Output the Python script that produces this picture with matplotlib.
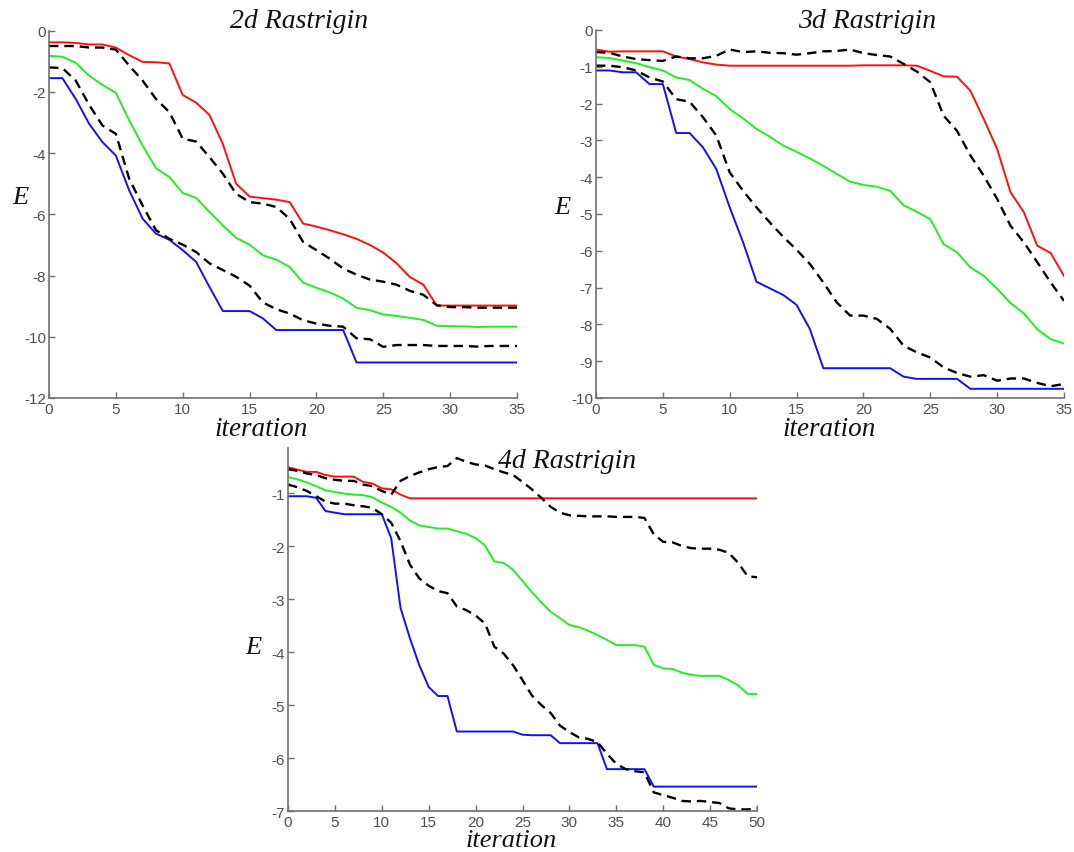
import matplotlib.pyplot as plt
import numpy as np

# iteration axes
it35 = np.arange(36)
it50 = np.arange(51)

# 2d Rastrigin
red_2d = [-0.38, -0.38, -0.4, -0.45, -0.45, -0.55, -0.8, -1.02, -1.03, -1.07,
          -2.1, -2.35, -2.75, -3.7, -5.0, -5.42, -5.47, -5.52, -5.6, -6.3,
          -6.4, -6.52, -6.65, -6.8, -7.0, -7.25, -7.6, -8.05, -8.3, -8.98,
          -8.98, -8.98, -8.98, -8.98, -8.98, -8.98]
dash_hi_2d = [-0.5, -0.5, -0.5, -0.55, -0.55, -0.62, -1.14, -1.63, -2.23, -2.66,
              -3.53, -3.62, -4.13, -4.67, -5.33, -5.6, -5.65, -5.76, -6.15, -6.9,
              -7.17, -7.45, -7.77, -7.97, -8.13, -8.2, -8.3, -8.5, -8.63, -8.97,
              -9.03, -9.03, -9.05, -9.05, -9.05, -9.05]
green_2d = [-0.82, -0.85, -1.05, -1.47, -1.77, -2.03, -2.93, -3.75, -4.49, -4.78,
            -5.3, -5.46, -5.92, -6.36, -6.77, -6.99, -7.34, -7.48, -7.72, -8.23,
            -8.4, -8.55, -8.75, -9.05, -9.13, -9.27, -9.32, -9.38, -9.45, -9.64,
            -9.65, -9.66, -9.68, -9.67, -9.67, -9.67]
dash_lo_2d = [-1.2, -1.22, -1.63, -2.42, -3.1, -3.37, -4.84, -5.71, -6.52, -6.8,
              -6.99, -7.23, -7.6, -7.82, -8.04, -8.33, -8.88, -9.1, -9.24, -9.46,
              -9.57, -9.64, -9.67, -10.05, -10.08, -10.33, -10.27, -10.27, -10.27, -10.3,
              -10.3, -10.3, -10.32, -10.3, -10.3, -10.3]
blue_2d = [-1.55, -1.55, -2.23, -3.04, -3.64, -4.08, -5.22, -6.14, -6.63, -6.83,
           -7.17, -7.55, -8.37, -9.16, -9.16, -9.16, -9.4, -9.78, -9.78, -9.78,
           -9.78, -9.78, -9.78, -10.84, -10.84, -10.84, -10.84, -10.84, -10.84, -10.84,
           -10.84, -10.84, -10.84, -10.84, -10.84, -10.84]

# 3d Rastrigin
red_3d = [-0.53, -0.59, -0.58, -0.58, -0.58, -0.58, -0.72, -0.79, -0.88, -0.94,
          -0.97, -0.97, -0.97, -0.97, -0.97, -0.97, -0.97, -0.97, -0.97, -0.97,
          -0.96, -0.96, -0.96, -0.96, -0.97, -1.11, -1.26, -1.27, -1.65, -2.42,
          -3.23, -4.41, -4.95, -5.86, -6.06, -6.68]
dash_hi_3d = [-0.6, -0.62, -0.72, -0.79, -0.82, -0.84, -0.72, -0.77, -0.77, -0.7,
              -0.53, -0.6, -0.58, -0.62, -0.63, -0.67, -0.63, -0.58, -0.57, -0.53,
              -0.63, -0.68, -0.72, -0.92, -1.13, -1.42, -2.33, -2.74, -3.41, -3.96,
              -4.59, -5.32, -5.77, -6.31, -6.86, -7.36]
green_3d = [-0.74, -0.76, -0.83, -0.9, -1.01, -1.1, -1.29, -1.36, -1.6, -1.8,
            -2.15, -2.4, -2.69, -2.9, -3.14, -3.31, -3.49, -3.69, -3.91, -4.12,
            -4.21, -4.26, -4.37, -4.76, -4.94, -5.14, -5.82, -6.04, -6.45, -6.68,
            -7.03, -7.42, -7.7, -8.13, -8.4, -8.52]
dash_lo_3d = [-0.97, -0.97, -1.01, -1.1, -1.29, -1.4, -1.88, -1.95, -2.37, -2.87,
              -3.87, -4.37, -4.82, -5.23, -5.62, -5.97, -6.36, -6.86, -7.4, -7.76,
              -7.76, -7.85, -8.12, -8.58, -8.76, -8.9, -9.17, -9.32, -9.42, -9.38,
              -9.53, -9.47, -9.47, -9.59, -9.68, -9.62]
blue_3d = [-1.1, -1.1, -1.15, -1.15, -1.47, -1.47, -2.8, -2.8, -3.19, -3.78,
           -4.82, -5.77, -6.84, -7.02, -7.2, -7.47, -8.13, -9.19, -9.19, -9.19,
           -9.19, -9.19, -9.19, -9.42, -9.48, -9.48, -9.48, -9.48, -9.75, -9.75,
           -9.75, -9.75, -9.75, -9.75, -9.75, -9.75]

# 4d Rastrigin
red_4d = [-0.51, -0.56, -0.6, -0.6, -0.66, -0.69, -0.69, -0.69, -0.79, -0.82,
          -0.91, -0.93, -1.03, -1.1] + [-1.1] * 37
dash_hi_4d = [-0.55, -0.58, -0.63, -0.66, -0.72, -0.75, -0.77, -0.77, -0.84, -0.87,
              -0.96, -1.03, -0.77, -0.68, -0.61, -0.55, -0.51, -0.49, -0.34, -0.41,
              -0.46, -0.48, -0.55, -0.61, -0.66, -0.79, -0.93, -1.09, -1.26, -1.37,
              -1.42, -1.43, -1.44, -1.44, -1.44, -1.45, -1.45, -1.45, -1.47, -1.78,
              -1.92, -1.93, -2.0, -2.04, -2.05, -2.05, -2.07, -2.13, -2.32, -2.57,
              -2.59]
green_4d = [-0.7, -0.74, -0.8, -0.87, -0.95, -0.98, -1.01, -1.03, -1.04, -1.08,
            -1.18, -1.26, -1.37, -1.52, -1.61, -1.64, -1.67, -1.67, -1.72, -1.77,
            -1.85, -1.99, -2.29, -2.32, -2.45, -2.66, -2.87, -3.06, -3.24, -3.36,
            -3.49, -3.53, -3.6, -3.68, -3.77, -3.87, -3.87, -3.87, -3.9, -4.24,
            -4.31, -4.32, -4.39, -4.43, -4.45, -4.45, -4.45, -4.53, -4.63, -4.79,
            -4.79]
dash_lo_4d = [-0.84, -0.89, -0.96, -1.06, -1.16, -1.2, -1.2, -1.23, -1.25, -1.28,
              -1.4, -1.56, -1.91, -2.35, -2.61, -2.75, -2.85, -2.89, -3.14, -3.21,
              -3.31, -3.46, -3.9, -4.03, -4.25, -4.53, -4.82, -5.0, -5.15, -5.39,
              -5.51, -5.61, -5.64, -5.7, -5.92, -6.11, -6.21, -6.25, -6.27, -6.65,
              -6.7, -6.75, -6.81, -6.82, -6.81, -6.83, -6.85, -6.95, -6.97, -6.97,
              -6.95]
blue_4d = [-1.06, -1.06, -1.06, -1.09, -1.34, -1.37, -1.4, -1.4, -1.4, -1.4,
           -1.4, -1.85, -3.17, -3.74, -4.25, -4.66, -4.83, -4.83, -5.5, -5.5,
           -5.5, -5.5, -5.5, -5.5, -5.5, -5.56, -5.57, -5.57, -5.57, -5.72,
           -5.72, -5.72, -5.72, -5.72, -6.21, -6.21, -6.21, -6.21, -6.21, -6.54,
           -6.54, -6.54, -6.54, -6.54, -6.54, -6.54, -6.54, -6.54, -6.54, -6.54,
           -6.54]

W, H = 1074, 853
fig = plt.figure(figsize=(W / 100, H / 100), dpi=100)

serif = dict(family='Liberation Serif', style='italic', color='#111111')


def px_axes(left, top, right, bottom):
    # axes from pixel box
    return fig.add_axes([left / W, 1 - bottom / H, (right - left) / W, (bottom - top) / H])


def style(ax, xmax, xt, ymin, ymax, yt):
    ax.set_xlim(0, xmax)
    ax.set_ylim(ymin, ymax)
    ax.set_xticks(xt)
    ax.set_yticks(yt)
    ax.set_yticklabels([str(v) for v in yt])
    for s in ['top', 'right']:
        ax.spines[s].set_visible(False)
    for s in ['left', 'bottom']:
        ax.spines[s].set_color('#707070')
        ax.spines[s].set_linewidth(1.2)
    ax.tick_params(direction='in', length=4, width=1, colors='#707070',
                   labelcolor='#505050', labelsize=11)
    ax.tick_params(axis='x', pad=3)
    ax.tick_params(axis='y', pad=2)
    for lab in ax.get_xticklabels() + ax.get_yticklabels():
        lab.set_family('Liberation Sans')


def draw(ax, x, red, dhi, green, dlo, blue):
    ax.plot(x, red, color='#ff1010', lw=1.4)
    ax.plot(x, green, color='#22ee22', lw=1.4)
    ax.plot(x, blue, color='#1010ff', lw=1.4)
    ax.plot(x, dhi, color='black', lw=1.7, ls=(0, (4, 2.5)))
    ax.plot(x, dlo, color='black', lw=1.7, ls=(0, (4, 2.5)))


ax1 = px_axes(49, 31.7, 517, 399)
draw(ax1, it35, red_2d, dash_hi_2d, green_2d, dash_lo_2d, blue_2d)
style(ax1, 35, range(0, 36, 5), -12, 0, list(range(-12, 1, 2)))

ax2 = px_axes(596, 31, 1064, 399)
draw(ax2, it35, red_3d, dash_hi_3d, green_3d, dash_lo_3d, blue_3d)
style(ax2, 35, range(0, 36, 5), -10, 0, list(range(-10, 1, 1)))

ax3 = px_axes(288, 449, 757, 812)
draw(ax3, it50, red_4d, dash_hi_4d, green_4d, dash_lo_4d, blue_4d)
style(ax3, 50, range(0, 51, 5), -7, -0.15, list(range(-7, 0, 1)))

# titles and axis labels
fig.text(299 / W, 1 - 22 / H, '2d Rastrigin', ha='center', va='center', fontsize=20, **serif)
fig.text(867 / W, 1 - 22 / H, '3d Rastrigin', ha='center', va='center', fontsize=20, **serif)
fig.text(567 / W, 1 - 462 / H, '4d Rastrigin', ha='center', va='center', fontsize=20, **serif)

fig.text(20 / W, 1 - 198 / H, 'E', ha='center', va='center', fontsize=19, **serif)
fig.text(562 / W, 1 - 208 / H, 'E', ha='center', va='center', fontsize=19, **serif)
fig.text(253 / W, 1 - 648 / H, 'E', ha='center', va='center', fontsize=19, **serif)

fig.text(261 / W, 1 - 430 / H, 'iteration', ha='center', va='center', fontsize=19.5, **serif)
fig.text(829 / W, 1 - 430 / H, 'iteration', ha='center', va='center', fontsize=19.5, **serif)
fig.text(511 / W, 1 - 841 / H, 'iteration', ha='center', va='center', fontsize=19, **serif)

fig.savefig('out.png', dpi=100)
